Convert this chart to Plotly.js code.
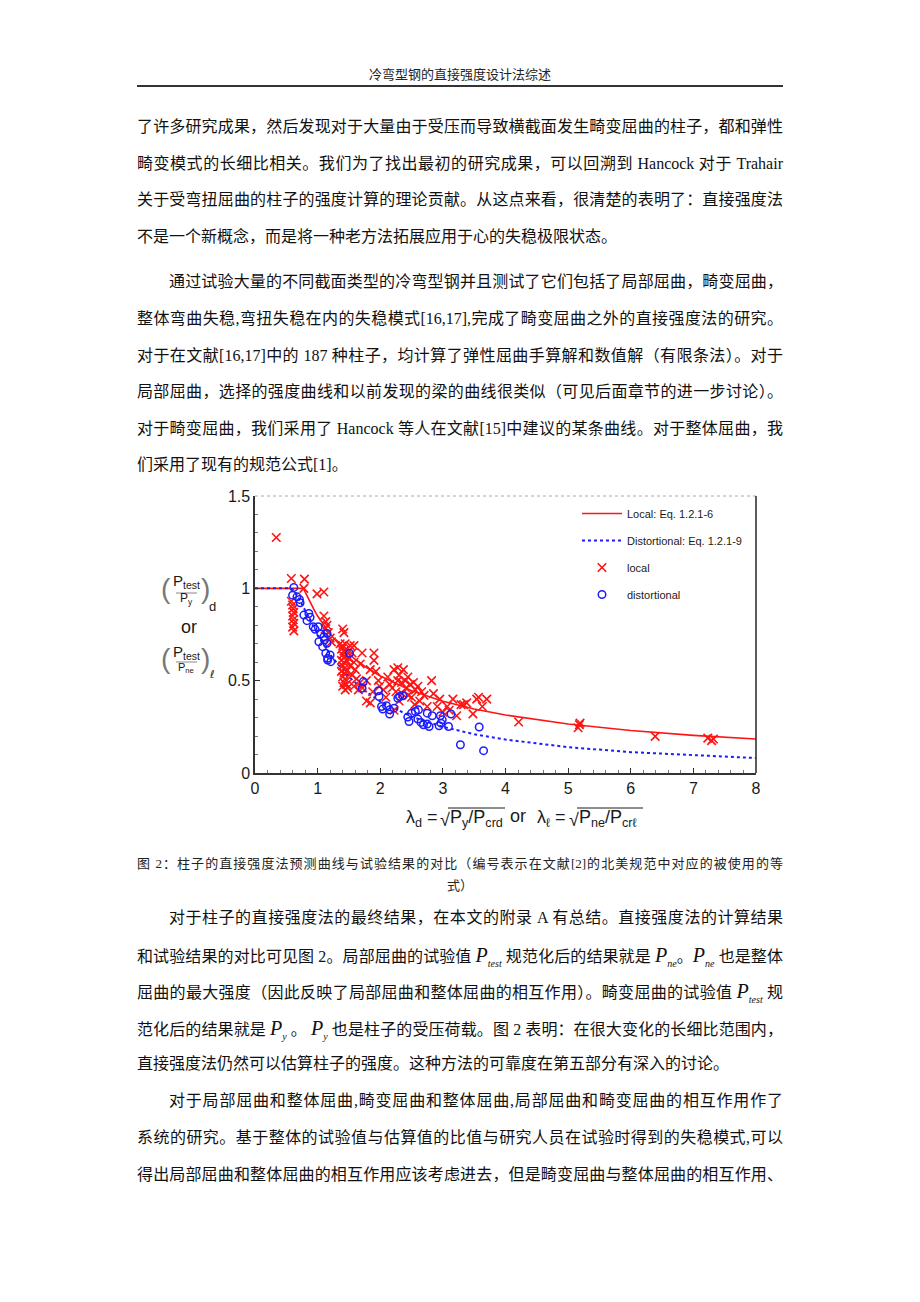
<!DOCTYPE html>
<html>
<head>
<meta charset="utf-8">
<script src="https://cdn.plot.ly/plotly-3.0.1.min.js"></script>
<style>
  html, body { margin:0; padding:0; background:#fff; }
  #page { position:relative; width:920px; height:1302px; background:#fff; overflow:hidden;
          font-family:"Liberation Serif","Noto Sans CJK SC",serif; color:#111; }
  .hdr { position:absolute; left:137px; width:646px; top:66px; text-align:center; font-size:13px; line-height:18px; color:#222; }
  .hline { position:absolute; left:137px; width:646px; top:85px; height:2px; background:#333; }
  .ln { position:absolute; left:137px; width:646px; height:22px; line-height:22px; font-size:16px;
        text-align:justify; text-align-last:justify; white-space:nowrap; }
  .ln.ind { left:169px; width:614px; }
  .ln.last { text-align-last:left; }
  .cap { position:absolute; left:137px; width:646px; height:18px; line-height:18px; font-size:13px;
         text-align:justify; text-align-last:justify; color:#222; }
  .cap.c { text-align:center; text-align-last:center; }
  .m { font-style:italic; font-size:20px; font-family:"Liberation Serif",serif; }
  .m sub { font-size:10px; font-style:italic; vertical-align:-5px; }
  #chart { position:absolute; left:140px; top:480px; width:640px; height:370px; }
</style>
</head>
<body>
<div id="page">
  <div class="hdr">冷弯型钢的直接强度设计法综述</div>
  <div class="hline"></div>

  <div class="ln" style="top:116px">了许多研究成果，然后发现对于大量由于受压而导致横截面发生畸变屈曲的柱子，都和弹性</div>
  <div class="ln" style="top:153px">畸变模式的长细比相关。我们为了找出最初的研究成果，可以回溯到 Hancock 对于 Trahair</div>
  <div class="ln" style="top:189px">关于受弯扭屈曲的柱子的强度计算的理论贡献。从这点来看，很清楚的表明了：直接强度法</div>
  <div class="ln last" style="top:226px">不是一个新概念，而是将一种老方法拓展应用于心的失稳极限状态。</div>

  <div class="ln ind" style="top:271px">通过试验大量的不同截面类型的冷弯型钢并且测试了它们包括了局部屈曲，畸变屈曲，</div>
  <div class="ln" style="top:308px">整体弯曲失稳,弯扭失稳在内的失稳模式[16,17],完成了畸变屈曲之外的直接强度法的研究。</div>
  <div class="ln" style="top:345px">对于在文献[16,17]中的 187 种柱子，均计算了弹性屈曲手算解和数值解（有限条法）。对于</div>
  <div class="ln" style="top:381px">局部屈曲，选择的强度曲线和以前发现的梁的曲线很类似（可见后面章节的进一步讨论）。</div>
  <div class="ln" style="top:418px">对于畸变屈曲，我们采用了 Hancock 等人在文献[15]中建议的某条曲线。对于整体屈曲，我</div>
  <div class="ln last" style="top:454px">们采用了现有的规范公式[1]。</div>

  <div id="chart"></div>

  <div class="cap" style="top:855px">图 2：柱子的直接强度法预测曲线与试验结果的对比（编号表示在文献[2]的北美规范中对应的被使用的等</div>
  <div class="cap c" style="top:877px">式）</div>

  <div class="ln ind" style="top:907px">对于柱子的直接强度法的最终结果，在本文的附录 A 有总结。直接强度法的计算结果</div>
  <div class="ln" style="top:944px">和试验结果的对比可见图 2。局部屈曲的试验值 <span class="m">P<sub>test</sub></span> 规范化后的结果就是 <span class="m">P<sub>ne</sub></span>。<span class="m">P<sub>ne</sub></span> 也是整体</div>
  <div class="ln" style="top:980px">屈曲的最大强度（因此反映了局部屈曲和整体屈曲的相互作用）。畸变屈曲的试验值 <span class="m">P<sub>test</sub></span> 规</div>
  <div class="ln" style="top:1017px">范化后的结果就是 <span class="m">P<sub>y</sub></span> 。 <span class="m">P<sub>y</sub></span> 也是柱子的受压荷载。图 2 表明：在很大变化的长细比范围内，</div>
  <div class="ln last" style="top:1053px">直接强度法仍然可以估算柱子的强度。这种方法的可靠度在第五部分有深入的讨论。</div>

  <div class="ln ind" style="top:1090px">对于局部屈曲和整体屈曲,畸变屈曲和整体屈曲,局部屈曲和畸变屈曲的相互作用作了</div>
  <div class="ln" style="top:1127px">系统的研究。基于整体的试验值与估算值的比值与研究人员在试验时得到的失稳模式,可以</div>
  <div class="ln" style="top:1164px">得出局部屈曲和整体屈曲的相互作用应该考虑进去，但是畸变屈曲与整体屈曲的相互作用、</div>
</div>

<script>
// ---------------- data ----------------
const localCurveX = [0, 0.776, 0.8, 0.85, 0.9, 0.95, 1, 1.1, 1.2, 1.25, 1.4, 1.5, 1.6, 1.75, 2, 2.5, 3, 3.5, 4, 5, 6, 7, 8];
const localCurveY = [1, 1, 0.981, 0.944, 0.910, 0.879, 0.850, 0.798, 0.752, 0.732, 0.676, 0.645, 0.616, 0.578, 0.525, 0.446, 0.389, 0.347, 0.314, 0.265, 0.230, 0.204, 0.184];

const distCurveX = [0, 0.561, 0.6, 0.65, 0.7, 0.8, 0.85, 0.9, 1, 1.1, 1.25, 1.5, 1.75, 2, 2.5, 3, 3.5, 4, 5, 6, 7, 8];
const distCurveY = [1, 1, 0.994, 0.974, 0.946, 0.880, 0.846, 0.813, 0.750, 0.693, 0.619, 0.520, 0.446, 0.388, 0.305, 0.250, 0.210, 0.181, 0.140, 0.113, 0.095, 0.081];

const localX = [0.34, 0.58, 0.79, 0.78, 0.99, 1.10,
  0.58, 0.60, 0.61, 0.62, 0.60, 0.61, 0.62, 0.60, 0.62,
  1.10, 1.13, 1.15, 1.12, 1.17, 1.20, 1.22, 1.40, 1.42,
  1.36, 1.40, 1.44, 1.38, 1.42, 1.46, 1.40, 1.44, 1.38, 1.42, 1.46, 1.40, 1.44, 1.38, 1.42, 1.46, 1.40, 1.44, 1.42, 1.46, 1.40, 1.48, 1.44,
  1.52, 1.58, 1.55, 1.50, 1.58, 1.52, 1.60, 1.55, 1.62, 1.68, 1.58, 1.65, 1.72,
  1.71, 1.90, 1.90, 1.68, 1.84, 1.93, 1.78, 1.97, 1.99, 1.78, 1.84, 2.09, 1.88,
  2.22, 2.28, 2.37, 2.44, 2.28, 2.34, 2.19, 2.25, 2.41, 2.53, 2.60, 2.66, 2.50, 2.63, 2.82, 2.85, 2.22, 2.30, 2.40, 2.48, 2.56, 2.35, 2.45, 2.15, 2.70, 2.75, 2.55, 2.30, 2.12, 2.05,
  2.91, 3.00, 3.07, 3.16, 3.22, 3.29, 3.38, 3.48, 3.57, 3.63, 3.70, 3.54, 3.33, 2.95, 3.10,
  4.21, 5.18, 5.16, 5.19, 6.39, 7.23, 7.29, 7.32];
const localY = [1.275, 1.053, 1.05, 1.00, 0.97, 0.98,
  0.93, 0.91, 0.89, 0.87, 0.85, 0.83, 0.81, 0.79, 0.77,
  0.85, 0.82, 0.80, 0.78, 0.76, 0.73, 0.71, 0.78, 0.76,
  0.70, 0.69, 0.70, 0.67, 0.66, 0.67, 0.64, 0.63, 0.61, 0.60, 0.61, 0.58, 0.57, 0.55, 0.54, 0.55, 0.52, 0.51, 0.49, 0.48, 0.47, 0.46, 0.45,
  0.69, 0.69, 0.65, 0.62, 0.60, 0.58, 0.56, 0.53, 0.51, 0.49, 0.47, 0.45, 0.46,
  0.65, 0.65, 0.61, 0.59, 0.56, 0.55, 0.50, 0.50, 0.47, 0.39, 0.38, 0.41, 0.44,
  0.56, 0.57, 0.56, 0.52, 0.50, 0.49, 0.46, 0.44, 0.46, 0.49, 0.47, 0.44, 0.41, 0.39, 0.50, 0.43, 0.34, 0.53, 0.50, 0.48, 0.45, 0.43, 0.42, 0.48, 0.42, 0.36, 0.37, 0.39, 0.52, 0.45,
  0.36, 0.33, 0.36, 0.40, 0.31, 0.37, 0.38, 0.32, 0.41, 0.36, 0.40, 0.40, 0.37, 0.40, 0.34,
  0.276, 0.261, 0.245, 0.27, 0.198, 0.189, 0.175, 0.184];

const distX = [0.62, 0.60, 0.67, 0.71, 0.72, 0.78, 0.86, 0.88, 0.83, 0.93, 1.01, 0.96,
  1.05, 1.10, 1.15, 1.02, 1.11, 1.15, 1.08, 1.13, 1.20, 1.16, 1.21, 1.16,
  1.51, 1.73, 1.71, 1.97, 1.98, 2.02, 2.04, 2.10, 2.15, 2.22, 2.15,
  2.28, 2.31, 2.36, 2.44, 2.46, 2.50, 2.56, 2.60, 2.65, 2.69, 2.75, 2.78, 2.75, 2.83, 2.61,
  2.96, 2.97, 2.94, 2.99, 3.09, 3.13, 3.28, 3.58, 3.65];
const distY = [1.005, 0.963, 0.954, 0.94, 0.922, 0.855, 0.864, 0.843, 0.825, 0.792, 0.792, 0.778,
  0.753, 0.738, 0.756, 0.711, 0.72, 0.702, 0.684, 0.648, 0.639, 0.621, 0.603, 0.612,
  0.648, 0.495, 0.459, 0.445, 0.414, 0.36, 0.346, 0.364, 0.342, 0.351, 0.319,
  0.405, 0.414, 0.418, 0.303, 0.279, 0.324, 0.333, 0.292, 0.274, 0.261, 0.265, 0.252, 0.324, 0.31, 0.342,
  0.31, 0.27, 0.256, 0.288, 0.252, 0.319, 0.153, 0.249, 0.121];

const xTicks = [0, 1, 2, 3, 4, 5, 6, 7, 8];
const yTicks = [0, 0.5, 1, 1.5];
const yTickText = ['0', '0.5', '1', '1.5'];
const legendNames = ['Local: Eq. 1.2.1-6', 'Distortional: Eq. 1.2.1-9', 'local', 'distortional'];

// ---------------- layout helpers ----------------
const RED = '#ff1414', BLUE = '#1c1cff', TXT = '#1a1a1a';
const M = {l:115, r:24, t:16, b:77}, W = 640, H = 370;
const PW = W - M.l - M.r, PH = H - M.t - M.b;
const OX = 140, OY = 480; // div offset in page
const px = x => (x - OX - M.l) / PW;
const py = y => 1 - (y - OY - M.t) / PH;
const FONT = 'Liberation Sans, Arial, sans-serif';

const traces = [
  {x: localCurveX, y: localCurveY, mode:'lines', name: legendNames[0], legendgroup:'a',
   line:{color:RED, width:1.6}},
  {x: distCurveX, y: distCurveY, mode:'lines', name: legendNames[1], legendgroup:'b',
   line:{color:BLUE, width:2, dash:'dot'}},
  {x: localX, y: localY, mode:'markers', name: legendNames[2], legendgroup:'c',
   marker:{symbol:'x-thin', size:8.5, line:{color:RED, width:1.6}, color:RED}},
  {x: distX, y: distY, mode:'markers', name: legendNames[3], legendgroup:'d',
   marker:{symbol:'circle-open', size:7.5, color:BLUE, line:{color:BLUE, width:1.5}}}
];

function ann(text, x, y, size, opts) {
  return Object.assign({text, x:px(x), y:py(y), xref:'paper', yref:'paper', showarrow:false,
    xanchor:'center', yanchor:'middle', font:{family:FONT, size, color:TXT}}, opts || {});
}
const PAREN = '#777';
const annotations = [
  ann('(', 166, 588, 28, {font:{family:FONT, size:28, color:PAREN}}),
  ann('P<sub>test</sub>', 186, 582, 15),
  ann('P<sub>y</sub>', 186, 599, 12),
  ann(')', 205, 588, 28, {font:{family:FONT, size:28, color:PAREN}}),
  ann('d', 212, 607, 13),
  ann('or', 189, 627, 18),
  ann('(', 166, 658, 28, {font:{family:FONT, size:28, color:PAREN}}),
  ann('P<sub>test</sub>', 186, 652, 15),
  ann('P<sub>ne</sub>', 186, 668, 11),
  ann(')', 205, 658, 28, {font:{family:FONT, size:28, color:PAREN}}),
  ann('ℓ', 212, 674, 11, {font:{family:'DejaVu Sans', size:11, color:TXT}}),
  // x axis title pieces
  ann('λ<sub>d</sub> =', 440, 818, 18, {xanchor:'right'}),
  ann('√', 445, 820, 18),
  ann('P<sub>y</sub>/P<sub>crd</sub>', 448, 818, 18, {xanchor:'left'}),
  ann('or', 518, 816, 18),
  ann('λ<sub>ℓ</sub> =', 568, 818, 18, {xanchor:'right'}),
  ann('√', 574, 820, 18),
  ann('P<sub>ne</sub>/P<sub>crℓ</sub>', 577, 818, 18, {xanchor:'left'})
];

function seg(x0, y0, x1, y1, color, width, dash) {
  return {type:'line', xref:'paper', yref:'paper', x0:px(x0), y0:py(y0), x1:px(x1), y1:py(y1),
          line:{color, width, dash: dash || 'solid'}};
}
const shapes = [
  {type:'line', xref:'paper', yref:'paper', x0:0, x1:1, y0:1, y1:1, line:{color:'#aaa', width:1, dash:'dot'}},
  {type:'line', xref:'paper', yref:'paper', x0:1, x1:1, y0:0, y1:1, line:{color:'#333', width:1.6}},
  seg(176, 593, 197, 593, '#888', 1),
  seg(176, 662, 197, 662, '#888', 1),
  seg(448, 808, 505, 808, TXT, 1),
  seg(577, 808, 643, 808, TXT, 1)
];

const layout = {
  width: W, height: H, margin: M,
  paper_bgcolor:'#fff', plot_bgcolor:'#fff',
  showlegend:true,
  legend:{x:px(577), y:py(499), xanchor:'left', yanchor:'top', bgcolor:'rgba(0,0,0,0)',
          font:{family:FONT, size:11, color:TXT}, itemwidth:40, tracegroupgap:8,
          traceorder:'grouped'},
  xaxis:{range:[0, 8], tickvals:xTicks, ticks:'inside', ticklen:5, tickcolor:'#333',
         showline:true, linecolor:'#333', linewidth:1.6, showgrid:false, zeroline:false,
         tickfont:{family:FONT, size:16, color:TXT},
         minor:{dtick:0.2, ticks:'inside', ticklen:3, tickcolor:'#777', showgrid:false}},
  yaxis:{range:[0, 1.5], tickvals:yTicks, ticktext:yTickText, ticks:'inside', ticklen:5, tickcolor:'#333',
         showline:true, linecolor:'#333', linewidth:1.6, showgrid:false, zeroline:false,
         tickfont:{family:FONT, size:16, color:TXT},
         minor:{dtick:0.1, ticks:'inside', ticklen:3, tickcolor:'#777', showgrid:false}},
  annotations, shapes
};

Plotly.newPlot('chart', traces, layout, {displayModeBar:false, staticPlot:true});
</script>
</body>
</html>
